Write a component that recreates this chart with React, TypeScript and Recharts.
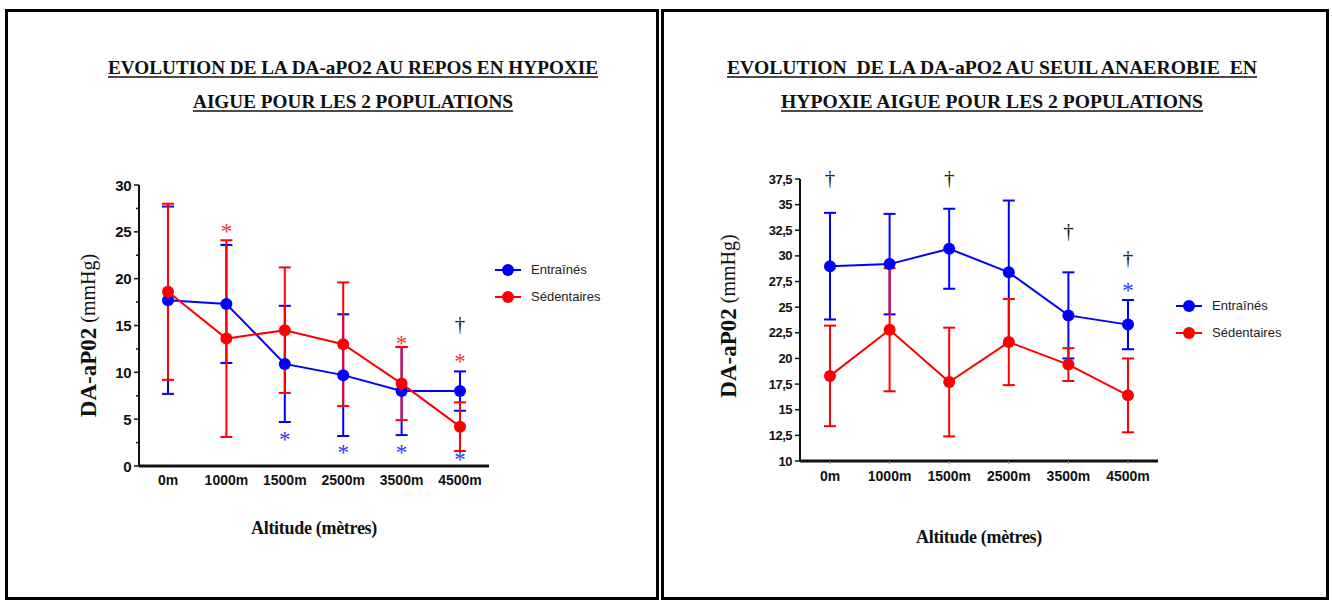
import React from 'react';
import { ComposedChart, Line, XAxis, YAxis, ErrorBar, Scatter, Legend, Label } from 'recharts';

const altitudes = ['0m', '1000m', '1500m', '2500m', '3500m', '4500m'];
const seriesNames = ['Entraînés', 'Sédentaires'];
const seriesColors = ['#0000ff', '#ff0000'];

// DA-aPO2 au repos
const restTrained = [17.7, 17.3, 10.9, 9.7, 8.0, 8.0];
const restTrainedErr = [10.0, 6.3, 6.2, 6.5, 4.7, 2.1];
const restSedentary = [18.6, 13.6, 14.5, 13.0, 8.8, 4.2];
const restSedentaryErr = [9.4, 10.5, 6.7, 6.6, 3.9, 2.6];
const restRedStars = [null, 25.3, null, null, 13.4, 11.5];
const restBlueStars = [null, null, 3.1, 1.7, 1.7, 1.0];
const restDaggers = [null, null, null, null, null, 15.0];
const restTicks = [0, 2.5, 5, 7.5, 10, 12.5, 15, 17.5, 20, 22.5, 25, 27.5, 30];

// DA-aPO2 au seuil anaerobie
const thrTrained = [29.0, 29.2, 30.7, 28.4, 24.2, 23.3];
const thrTrainedErr = [5.2, 4.9, 3.9, 7.0, 4.2, 2.4];
const thrSedentary = [18.3, 22.8, 17.7, 21.6, 19.4, 16.4];
const thrSedentaryErr = [4.9, 6.0, 5.3, 4.2, 1.6, 3.6];
const thrRedStars = [null, null, null, null, null, null];
const thrBlueStars = [null, null, null, null, null, 26.9];
const thrDaggers = [37.5, null, 37.5, null, 32.3, 29.7];
const thrTicks = [10, 12.5, 15, 17.5, 20, 22.5, 25, 27.5, 30, 32.5, 35, 37.5];

const serif = '"Liberation Serif", "Times New Roman", serif';
const sans = '"Liberation Sans", Arial, sans-serif';

const buildData = (trained, trainedErr, sed, sedErr, redStars, blueStars, daggers) =>
  altitudes.map((alt, i) => ({
    alt,
    trained: trained[i],
    trainedErr: trainedErr[i],
    sedentary: sed[i],
    sedentaryErr: sedErr[i],
    redStar: redStars[i],
    blueStar: blueStars[i],
    dagger: daggers[i],
  }));

const restData = buildData(restTrained, restTrainedErr, restSedentary, restSedentaryErr, restRedStars, restBlueStars, restDaggers);
const thrData = buildData(thrTrained, thrTrainedErr, thrSedentary, thrSedentaryErr, thrRedStars, thrBlueStars, thrDaggers);

// draws a * or † centred on the point
const markShape = (key: string, glyph: string, color: string, dy: string) => (p: any) => {
  if (!p.payload || p.payload[key] == null) return <g />;
  return (
    <text x={p.cx} y={p.cy} dy={dy} textAnchor="middle" fontFamily={serif} fontSize={glyph === '*' ? 23 : 21} fill={color}>
      {glyph}
    </text>
  );
};

const LegendBox = () => (
  <div style={{ fontFamily: sans, fontSize: 13, color: '#222' }}>
    {seriesNames.map((name, i) => (
      <div key={name} style={{ display: 'flex', alignItems: 'center', height: 27 }}>
        <svg width={26} height={14} style={{ display: 'block' }}>
          <line x1={0} x2={26} y1={7} y2={7} stroke={seriesColors[i]} strokeWidth={2} />
          <circle cx={13} cy={7} r={6} fill={seriesColors[i]} />
        </svg>
        <span style={{ marginLeft: 10 }}>{name}</span>
      </div>
    ))}
  </div>
);

const Title = ({ lines }) => (
  <svg width={1332} height={130} style={{ position: 'absolute', left: 0, top: 0 }}>
    {lines.map((l, i) => (
      <g key={i}>
        <text x={l.cx} y={l.y} textAnchor="middle" textLength={l.len} lengthAdjust="spacingAndGlyphs"
          fontFamily={serif} fontWeight="bold" fontSize={19} fill="#111" style={{ whiteSpace: 'pre' }}>
          {l.text}
        </text>
        <line x1={l.cx - l.len / 2} x2={l.cx + l.len / 2} y1={l.y + 3} y2={l.y + 3} stroke="#111" strokeWidth={1.5} />
      </g>
    ))}
  </svg>
);

function AltitudeChart({ data, ticks, domain, left, top, width, height, margin, xHeight, xPad, titleDy, yLabelX, yLabelDy, minor, tickFont, xTickSize, xTickMargin, legendPos }) {
  const YTick = (p: any) => {
    const axisX = p.x + 5 + 2;
    const v = p.payload.value;
    const major = !minor || v % 5 === 0;
    return (
      <g>
        <line x1={axisX - (major ? 5 : 3)} x2={axisX} y1={p.y} y2={p.y} stroke="#111" strokeWidth={1.5} />
        {major && (
          <text x={axisX - 8} y={p.y} textAnchor="end" dominantBaseline="central" fontFamily={sans} fontWeight="bold"
            fontSize={tickFont} fill="#111" letterSpacing={-0.5}>
            {String(v).replace('.', ',')}
          </text>
        )}
      </g>
    );
  };

  const YTitle = (p: any) => {
    const vb = p.viewBox;
    const tx = vb.x + yLabelX;
    const ty = vb.y + vb.height / 2 + yLabelDy;
    return (
      <text x={tx} y={ty} transform={`rotate(-90, ${tx}, ${ty})`} textAnchor="middle" dominantBaseline="central" fontFamily={serif} fill="#111">
        <tspan fontWeight="bold" fontSize={23}>DA-aP02</tspan>
        <tspan fontSize={20}> (mmHg)</tspan>
      </text>
    );
  };

  const XTitle = (p: any) => {
    const vb = p.viewBox;
    return (
      <text x={vb.x + vb.width / 2} y={vb.y + titleDy} textAnchor="middle" dominantBaseline="central" fontFamily={serif}
        fontWeight="bold" fontSize={18} fill="#111" letterSpacing={-0.3}>
        Altitude (mètres)
      </text>
    );
  };

  return (
    <div style={{ position: 'absolute', left, top }}>
      <ComposedChart width={width} height={height} data={data} margin={margin}>
        <XAxis dataKey="alt" height={xHeight} padding={{ left: xPad, right: xPad }} axisLine={{ stroke: '#111', strokeWidth: 3 }}
          tickLine={xTickSize > 0 ? { stroke: '#888' } : false} tickSize={xTickSize} tickMargin={xTickMargin}
          tick={{ fontFamily: sans, fontWeight: 'bold', fontSize: 14, fill: '#111' }} interval={0}>
          <Label content={XTitle} />
        </XAxis>
        <YAxis type="number" domain={domain} ticks={ticks} interval={0} width={100} axisLine={{ stroke: '#111', strokeWidth: 2 }}
          tickLine={false} tickSize={5} tickMargin={2} tick={YTick}>
          <Label content={YTitle} />
        </YAxis>
        <Legend layout="vertical" align="center" verticalAlign="middle" content={LegendBox}
          wrapperStyle={{ left: legendPos[0], top: legendPos[1], width: 150, height: 54 }} />
        <Line dataKey="trained" name={seriesNames[0]} stroke={seriesColors[0]} strokeWidth={2}
          dot={{ r: 6, fill: seriesColors[0], stroke: seriesColors[0], strokeWidth: 0 }} activeDot={false} isAnimationActive={false}>
          <ErrorBar dataKey="trainedErr" width={6} stroke={seriesColors[0]} strokeWidth={2} direction="y" />
        </Line>
        <Line dataKey="sedentary" name={seriesNames[1]} stroke={seriesColors[1]} strokeWidth={2}
          dot={{ r: 6, fill: seriesColors[1], stroke: seriesColors[1], strokeWidth: 0 }} activeDot={false} isAnimationActive={false}>
          <ErrorBar dataKey="sedentaryErr" width={6} stroke={seriesColors[1]} strokeWidth={2} direction="y" />
        </Line>
        <Scatter dataKey="redStar" shape={markShape('redStar', '*', '#ff3030', '0.45em')} isAnimationActive={false} legendType="none" />
        <Scatter dataKey="blueStar" shape={markShape('blueStar', '*', '#3030ff', '0.45em')} isAnimationActive={false} legendType="none" />
        <Scatter dataKey="dagger" shape={markShape('dagger', '†', '#222', '0.28em')} isAnimationActive={false} legendType="none" />
      </ComposedChart>
    </div>
  );
}

const panelStyle = { position: 'absolute' as const, top: 9, height: 591, border: '3px solid #000', boxSizing: 'border-box' as const, background: '#fff' };

export default function App() {
  return (
    <div style={{ position: 'absolute', left: 0, top: 0, width: 1332, height: 600, background: '#fff', overflow: 'hidden' }}>
      <div style={{ ...panelStyle, left: 5, width: 654 }} />
      <div style={{ ...panelStyle, left: 661, width: 668 }} />
      <Title lines={[
        { text: 'EVOLUTION DE LA DA-aPO2 AU REPOS EN HYPOXIE', cx: 353, y: 74, len: 490 },
        { text: 'AIGUE POUR LES 2 POPULATIONS', cx: 353, y: 108, len: 320 },
        { text: 'EVOLUTION  DE LA DA-aPO2 AU SEUIL ANAEROBIE  EN', cx: 992, y: 74, len: 530 },
        { text: 'HYPOXIE AIGUE POUR LES 2 POPULATIONS', cx: 992, y: 108, len: 422 },
      ]} />
      <AltitudeChart data={restData} ticks={restTicks} domain={[0, 30]} left={39} top={170} width={620} height={371}
        margin={{ top: 15, right: 170, left: 0, bottom: 0 }} xHeight={75} xPad={29} titleDy={62} yLabelX={49} yLabelDy={10} minor={true}
        tickFont={15} xTickSize={0} xTickMargin={9} legendPos={[456, 86]} />
      <AltitudeChart data={thrData} ticks={thrTicks} domain={[10, 37.5]} left={700} top={160} width={626} height={391}
        margin={{ top: 19, right: 168, left: 0, bottom: 0 }} xHeight={90} xPad={30} titleDy={76} yLabelX={28} yLabelDy={-4} minor={false}
        tickFont={13} xTickSize={3} xTickMargin={7} legendPos={[476, 132]} />
    </div>
  );
}
